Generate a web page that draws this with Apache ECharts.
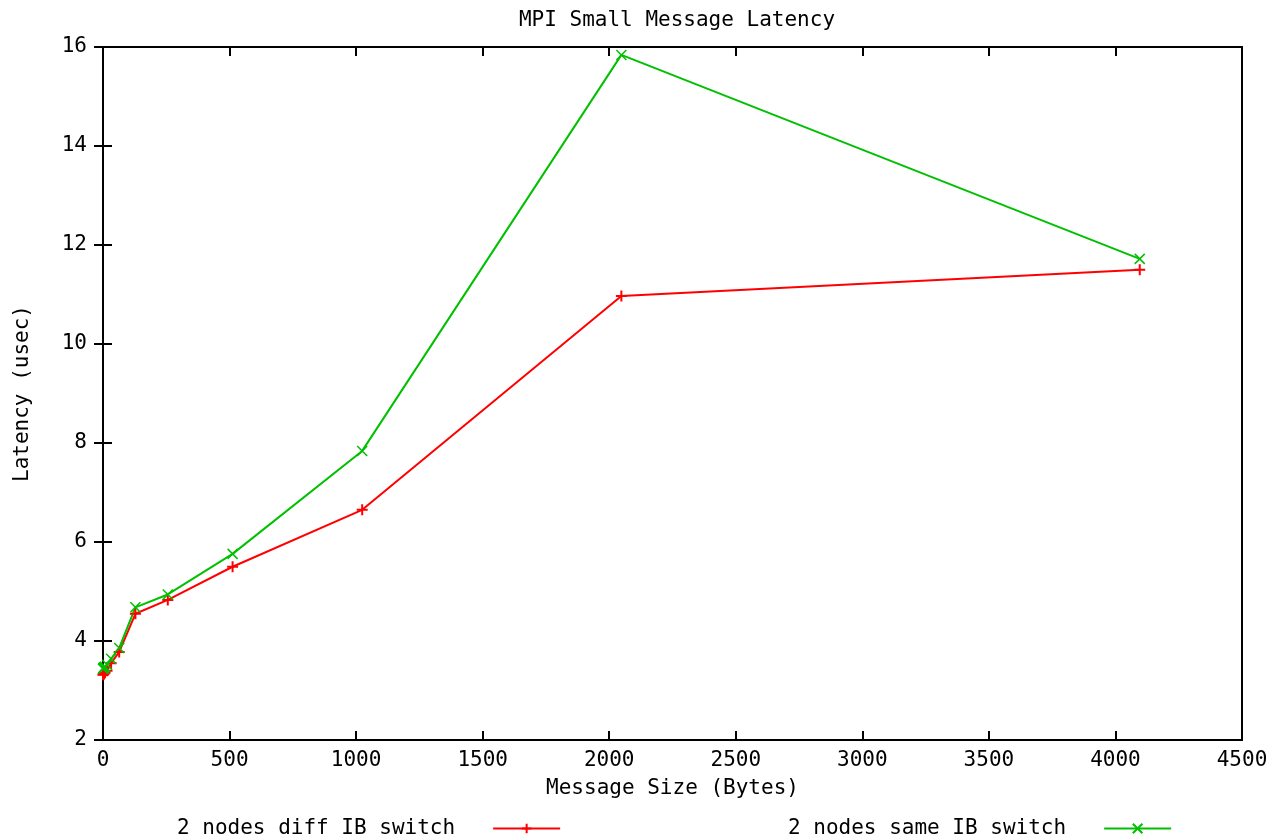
<!DOCTYPE html>
<html>
<head>
<meta charset="utf-8">
<script src="https://cdn.jsdelivr.net/npm/echarts@6/dist/echarts.min.js"></script>
<style>
  html, body { margin: 0; padding: 0; background: #fff; }
  #chart { width: 1279px; height: 838px; }
</style>
</head>
<body>
<div id="chart"></div>
<script>
// message sizes in bytes
var sizes = [0, 1, 2, 4, 8, 16, 32, 64, 128, 256, 512, 1024, 2048, 4096];
// latency in usec
var diffSwitch = [3.32, 3.33, 3.33, 3.34, 3.36, 3.40, 3.55, 3.78, 4.55, 4.83, 5.50, 6.65, 10.97, 11.50];
var sameSwitch = [3.44, 3.45, 3.45, 3.47, 3.48, 3.52, 3.64, 3.86, 4.68, 4.94, 5.76, 7.84, 15.84, 11.72];

var seriesNames = ['2 nodes diff IB switch', '2 nodes same IB switch'];

(function () {
  var myChart = echarts.init(document.getElementById('chart'));
  var font = 'DejaVu Sans Mono';
  var plus = 'path://M0,5L10,5M5,0L5,10';
  var cross = 'path://M0,0L10,10M10,0L0,10';

  function pairs(ys) {
    return sizes.map(function (x, i) { return [x, ys[i]]; });
  }

  var labelStyle = { color: '#000', fontFamily: font, fontSize: 21 };

  var option = {
    backgroundColor: '#fff',
    animation: false,
    title: {
      text: 'MPI Small Message Latency',
      left: 672,
      textAlign: 'center',
      top: 5,
      textStyle: { color: '#000', fontFamily: font, fontSize: 21, fontWeight: 'normal' }
    },
    grid: {
      left: 103, right: 37, top: 47, bottom: 98,
      show: true, borderColor: '#000', borderWidth: 2, backgroundColor: 'transparent'
    },
    legend: [{
      data: [seriesNames[0]],
      left: 172, top: 813,
      align: 'right',
      itemWidth: 67, itemHeight: 12, itemGap: 0,
      textStyle: Object.assign({ padding: [0, 33, 0, 0] }, labelStyle)
    }, {
      data: [seriesNames[1]],
      left: 783, top: 813,
      align: 'right',
      itemWidth: 67, itemHeight: 12, itemGap: 0,
      textStyle: Object.assign({ padding: [0, 33, 0, 0] }, labelStyle)
    }],
    xAxis: [{
      type: 'value',
      min: 0, max: 4500, interval: 500,
      name: 'Message Size (Bytes)',
      nameLocation: 'middle',
      nameGap: 38,
      nameTextStyle: labelStyle,
      axisLine: { show: false },
      axisTick: { show: true, inside: true, length: 9, lineStyle: { color: '#000', width: 2 } },
      axisLabel: Object.assign({ margin: 10, formatter: function (v) { return String(v); } }, labelStyle),
      splitLine: { show: false }
    }, {
      type: 'value', position: 'top',
      min: 0, max: 4500, interval: 500,
      axisLine: { show: false },
      axisTick: { show: true, inside: true, length: 9, lineStyle: { color: '#000', width: 2 } },
      axisLabel: { show: false },
      splitLine: { show: false }
    }],
    yAxis: [{
      type: 'value',
      min: 2, max: 16, interval: 2,
      name: 'Latency (usec)',
      nameLocation: 'middle',
      nameGap: 70,
      nameTextStyle: labelStyle,
      axisLine: { show: false },
      axisTick: { show: true, inside: true, length: 9, lineStyle: { color: '#000', width: 2 } },
      axisLabel: Object.assign({ margin: 16 }, labelStyle),
      splitLine: { show: false }
    }, {
      type: 'value', position: 'right',
      min: 2, max: 16, interval: 2,
      axisLine: { show: false },
      axisTick: { show: true, inside: true, length: 9, lineStyle: { color: '#000', width: 2 } },
      axisLabel: { show: false },
      splitLine: { show: false }
    }],
    series: [{
      name: seriesNames[0],
      type: 'line',
      data: pairs(diffSwitch),
      symbol: plus,
      symbolSize: 11,
      lineStyle: { color: '#ff0000', width: 2 },
      itemStyle: { color: '#ff0000', borderColor: '#ff0000', borderWidth: 2 }
    }, {
      name: seriesNames[1],
      type: 'line',
      data: pairs(sameSwitch),
      symbol: cross,
      symbolSize: 10,
      lineStyle: { color: '#00c000', width: 2 },
      itemStyle: { color: '#00c000', borderColor: '#00c000', borderWidth: 1.5 }
    }]
  };

  myChart.setOption(option);
  window.addEventListener('resize', function () {
    myChart.resize();
  });
})();
</script>
</body>
</html>
